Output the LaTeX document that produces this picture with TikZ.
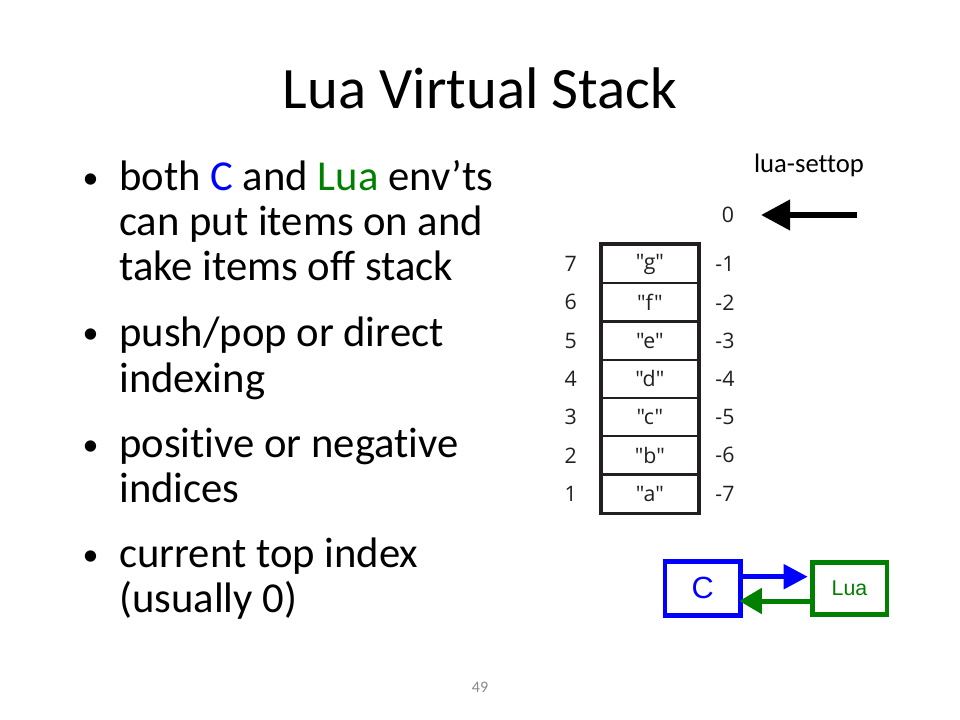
\documentclass[tikz,border=0pt]{standalone}
\usepackage{fontspec}
\setmainfont{Carlito}[Ligatures={NoCommon}]
\newfontfamily\stk{Open Sans}
\newfontfamily\arialf{Liberation Sans}
\usetikzlibrary{arrows.meta}
\definecolor{cblue}{RGB}{0,0,255}
\definecolor{cgreen}{RGB}{0,128,0}
\definecolor{pgnum}{RGB}{137,137,137}
\definecolor{stkink}{RGB}{35,31,32}
\newcommand\qq[1]{\symbol{34}#1\symbol{34}}
\tikzset{
  line/.style={anchor=base west, inner sep=0pt, font=\fontsize{32}{38}\selectfont},
  bul/.style={anchor=base, inner sep=0pt, font=\fontsize{24}{28}\selectfont},
  cell/.style={draw=stkink, line width=1.7pt, minimum width=72pt, minimum height=28.68pt, inner sep=0pt, font=\stk\fontsize{16}{19}\selectfont, text=stkink},
  idx/.style={inner sep=0pt, font=\stk\fontsize{16}{19}\selectfont, text=stkink},
  envbox/.style={line width=3.4pt, inner sep=0pt},
}
\begin{document}
\begin{tikzpicture}[x=0.75pt,y=-0.75pt]
\useasboundingbox[fill=white] (0,0) rectangle (960,720);
% title
\node[anchor=base, inner sep=0pt, font=\fontsize{44}{53}\selectfont] (title) at (480,109) {Lua Virtual Stack};
% bullets
\node[bul] (b1) at (90.5,189) {•};
\node[line] (l1) at (119,191) {both {\color{cblue}C} and {\color{cgreen}Lua} env’ts};
\node[line] (l2) at (119,236) {can put items on and};
\node[line] (l3) at (119,281) {take items off stack};
\node[bul] (b2) at (90.5,344) {•};
\node[line] (l4) at (119,346) {push/pop or direct};
\node[line] (l5) at (119,392) {indexing};
\node[bul] (b3) at (90.5,455) {•};
\node[line] (l6) at (119,457) {positive or negative};
\node[line] (l7) at (119,502) {indices};
\node[bul] (b4) at (90.5,565) {•};
\node[line] (l8) at (119,567) {current top index};
\node[line] (l9) at (119,612) {(usually 0)};
% page number
\node[anchor=base, inner sep=0pt, text=pgnum, font=\fontsize{12}{14}\selectfont] (pg) at (480,692) {49};
% lua-settop
\node[anchor=base, inner sep=0pt, font=\fontsize{20}{24}\selectfont] (settop) at (809,173) {lua-settop};
\node[idx] (zero) at (728,215) {0};
\coordinate (arrS) at (857,215);
\coordinate (arrT) at (761,215);
\draw[line width=4.5pt, -{Triangle[length=21.75pt,width=22pt]}] (arrS) -- (arrT);
% stack
\foreach \i/\v/\p/\n in {0/g/7/-1,1/f/6/-2,2/e/5/-3,3/d/4/-4,4/c/3/-5,5/b/2/-6,6/a/1/-7}{
  \node[cell] (s\i) at (649.9,{245+38.24*(\i+0.5)}) {\qq{\v}};
  \node[idx] (p\i) at (570.7,{245+38.24*(\i+0.5)}) {\p};
  \node[idx] (n\i) at (725,{245+38.24*(\i+0.5)}) {\n};
}
\draw[stkink, line width=2.25pt] (s0.north west) rectangle (s6.south east);
% C and Lua boxes
\node[envbox, draw=cblue, text=cblue, minimum width=56.6pt, minimum height=40.6pt, font=\arialf\fontsize{23}{27}\selectfont] (C) at (702.7,588.3) {C};
\node[envbox, draw=cgreen, text=cgreen, minimum width=55.9pt, minimum height=39.1pt, font=\arialf\fontsize{16}{19}\selectfont] (Lua) at (849.5,588.3) {Lua};
\coordinate (yb) at (0,576.7);
\coordinate (yg) at (0,601);
\draw[cblue, line width=3.75pt, -{Triangle[length=18pt,width=18pt]}, shorten >=1.7pt] (C.east |- yb) -- (Lua.west |- yb);
\draw[cgreen, line width=3.75pt, -{Triangle[length=17pt,width=18.75pt]}, shorten >=-2.6pt] (Lua.west |- yg) -- (C.east |- yg);
\end{tikzpicture}
\end{document}
